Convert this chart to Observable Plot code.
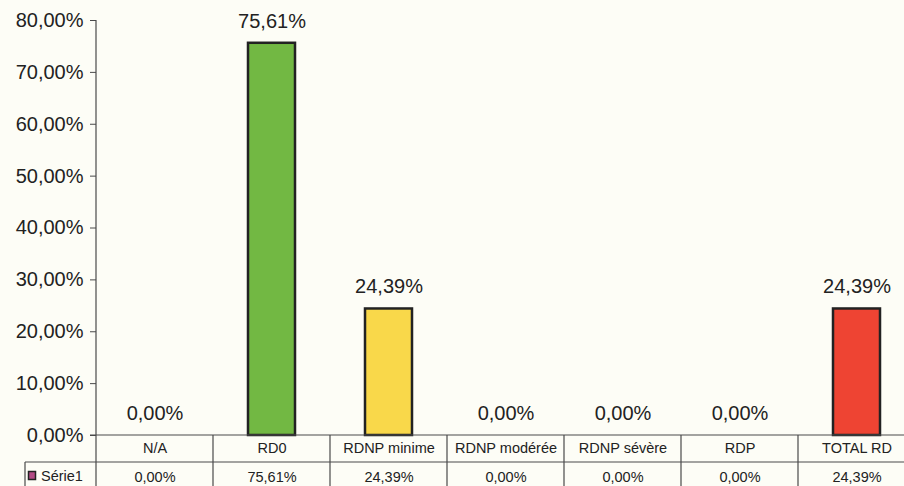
<!DOCTYPE html>
<html>
<head>
<meta charset="utf-8">
<script src="https://cdn.jsdelivr.net/npm/d3@7"></script>
<script src="https://cdn.jsdelivr.net/npm/@observablehq/plot@0.6"></script>
<style>
  html, body { margin: 0; padding: 0; background: #fdfdf6; }
  #chart svg { display: block; background: #fdfdf6; font-family: "Liberation Sans", Arial, sans-serif; }
</style>
</head>
<body>
<div id="chart"></div>
<script>
const categories = ["N/A", "RD0", "RDNP minime", "RDNP modérée", "RDNP sévère", "RDP", "TOTAL RD"];
const values = [0, 75.61, 24.39, 0, 0, 0, 24.39];
const barColors = ["#9e9e9e", "#72b843", "#f9d84a", "#9e9e9e", "#9e9e9e", "#9e9e9e", "#ee4433"];
const yTicks = [0, 10, 20, 30, 40, 50, 60, 70, 80];
const seriesName = "Série1";
const seriesColor = "#b24a85";

const fmt = v => v.toFixed(2).replace(".", ",") + "%";
const data = categories.map((c, i) => ({cat: c, value: values[i], color: barColors[i]}));
const ink = "#222";
const gridInk = "#4a4a4a";

const plot = Plot.plot({
  width: 904,
  height: 486,
  marginLeft: 96,
  marginRight: 0,
  marginTop: 20,
  marginBottom: 51,
  style: {background: "#fdfdf6", fontFamily: "'Liberation Sans', Arial, sans-serif", overflow: "hidden"},
  x: {domain: categories, range: [96, 915], padding: 0, axis: null},
  y: {domain: [0, 80], axis: null, label: null},
  color: {type: "identity"},
  marks: [
    Plot.axisY({ticks: yTicks, tickFormat: fmt, tickSize: 6, tickPadding: 7, fontSize: 20, color: ink, stroke: gridInk, label: null}),
    Plot.barY(data.filter(d => d.value > 0), {x: "cat", y: "value", fill: "color", stroke: ink, strokeWidth: 2.5, insetLeft: 35, insetRight: 35}),
    Plot.text(data, {x: "cat", y: "value", text: d => fmt(d.value), dy: -22, fontSize: 20, fill: ink}),
    Plot.text(data, {x: "cat", y: () => 0, text: "cat", dy: 13, fontSize: 14.5, fill: ink}),
    Plot.text(data, {x: "cat", y: () => 0, text: d => fmt(d.value), dy: 41.5, fontSize: 14.5, fill: ink})
  ]
});

const xs = plot.scale("x");
const ys = plot.scale("y");
const svg = d3.select(plot);
const g = svg.append("g").attr("stroke", gridInk).attr("stroke-width", 1.2).attr("fill", "none");
const y0 = ys.apply(0);
const yTop = ys.apply(80);
const rowY = y0 + 27;
const xLeft = xs.apply(categories[0]);
const step = xs.step !== undefined ? xs.step : xs.bandwidth;
const xRight = xs.apply(categories[categories.length - 1]) + step;
// axis line and table grid
g.append("line").attr("x1", xLeft).attr("x2", xLeft).attr("y1", yTop).attr("y2", 486);
g.append("line").attr("x1", xLeft - 6).attr("x2", xRight).attr("y1", y0).attr("y2", y0);
g.append("line").attr("x1", 25).attr("x2", xRight).attr("y1", rowY).attr("y2", rowY);
g.append("line").attr("x1", 25).attr("x2", 25).attr("y1", rowY).attr("y2", 486);
categories.forEach(c => {
  const xe = xs.apply(c) + step;
  g.append("line").attr("x1", xe).attr("x2", xe).attr("y1", y0).attr("y2", 486);
});
// legend key
svg.append("rect").attr("x", 28.5).attr("y", 471.5).attr("width", 7).attr("height", 8)
  .attr("fill", seriesColor).attr("stroke", "#222").attr("stroke-width", 1.5);
svg.append("text").attr("x", 41).attr("y", rowY + 14.5).attr("dy", "0.32em")
  .attr("text-anchor", "start").attr("font-family", "'Liberation Sans', Arial, sans-serif")
  .attr("font-size", 14.5).attr("fill", ink).text(seriesName);

document.getElementById("chart").appendChild(plot);
</script>
</body>
</html>
